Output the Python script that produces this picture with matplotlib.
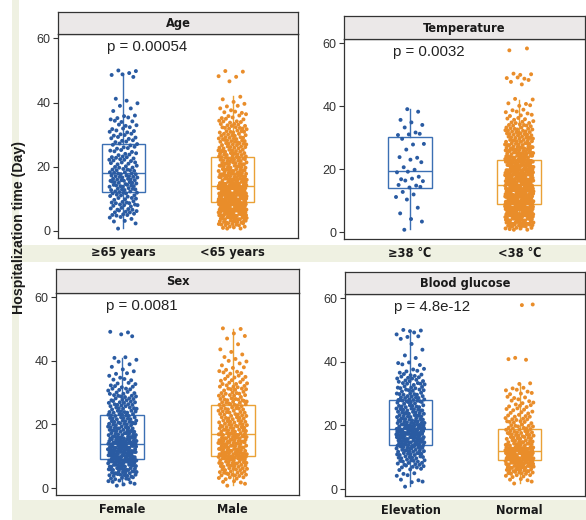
import numpy as np
import matplotlib
matplotlib.use('Agg')
import matplotlib.pyplot as plt
from matplotlib.patches import Rectangle
from matplotlib import font_manager

# ---- data: number of patients per hospitalization day (first entry = day 1) ----
age_over65 = [1, 1, 2, 3, 5, 5, 5, 6, 6, 5, 5, 7, 7, 8, 7, 8, 8, 7, 6, 5,
              5, 5, 5, 4, 4, 4, 4, 4, 4, 4, 4, 3, 3, 3, 3, 2, 1, 1, 1, 1,
              2, 0, 0, 0, 0, 0, 0, 1, 3, 2]
age_under65 = [6, 8, 10, 13, 16, 17, 19, 19, 23, 23, 22, 21, 21, 22, 13, 12, 12, 11, 11, 10,
               10, 9, 9, 9, 9, 8, 8, 8, 8, 7, 7, 7, 6, 5, 4, 3, 3, 2, 2, 2,
               1, 1, 0, 0, 0, 0, 1, 2, 0, 2]
temp_high = [1, 0, 1, 1, 0, 1, 0, 1, 0, 1, 1, 1, 1, 2, 2, 2, 2, 1, 2, 1,
             1, 1, 1, 2, 0, 1, 0, 2, 0, 1, 3, 1, 1, 1, 1, 1, 0, 1, 1]
temp_low = [7, 10, 13, 16, 20, 23, 25, 26, 28, 26, 25, 24, 23, 22, 22, 20, 19, 18, 17, 16,
            15, 15, 14, 13, 12, 11, 10, 10, 9, 9, 8, 8, 7, 6, 5, 4, 3, 3, 2, 2,
            2, 2, 0, 0, 0, 0, 1, 2, 3, 3, 0, 0, 0, 0, 0, 0, 0, 2]
sex_female = [3, 4, 6, 8, 10, 11, 12, 14, 16, 16, 15, 15, 14, 18, 11, 11, 10, 10, 9, 9,
              8, 8, 8, 8, 7, 7, 6, 6, 6, 5, 5, 4, 3, 3, 2, 2, 2, 1, 1, 2,
              2, 0, 0, 0, 0, 0, 0, 2, 2]
sex_male = [2, 3, 5, 6, 7, 8, 9, 10, 11, 13, 12, 11, 11, 11, 11, 11, 11, 9, 8, 8,
            8, 7, 7, 7, 7, 7, 7, 7, 6, 6, 6, 5, 5, 4, 4, 3, 3, 2, 2, 2,
            2, 1, 1, 1, 1, 0, 1, 1, 1, 2]
glu_elev = [1, 2, 2, 2, 2, 3, 5, 6, 7, 8, 9, 9, 10, 11, 13, 14, 14, 15, 18, 12,
            10, 9, 9, 9, 9, 8, 6, 9, 7, 7, 6, 6, 6, 5, 5, 4, 3, 2, 2, 2,
            1, 1, 0, 1, 0, 1, 1, 2, 2, 3]
glu_normal = [0, 2, 3, 5, 7, 10, 13, 15, 17, 18, 17, 19, 14, 11, 9, 8, 8, 8, 7, 6,
              6, 5, 5, 4, 4, 4, 3, 3, 3, 3, 3, 2, 2, 0, 0, 0, 0, 0, 0, 0,
              3, 0, 0, 0, 0, 0, 0, 0, 0, 0, 0, 0, 0, 0, 0, 0, 0, 2]

titles = ['Age', 'Temperature', 'Sex', 'Blood glucose']
group_labels = [['≥65 years', '<65 years'], ['≥38 ℃', '<38 ℃'],
                ['Female', 'Male'], ['Elevation', 'Normal']]
group_counts = [[age_over65, age_under65], [temp_high, temp_low],
                [sex_female, sex_male], [glu_elev, glu_normal]]
p_labels = ['p = 0.00054', 'p = 0.0032', 'p = 0.0081', 'p = 4.8e-12']
y_ticks = [0, 20, 40, 60]
y_label = 'Hospitalization time (Day)'

# ---- layout (pixels: left, strip top, right, strip bottom, axes bottom) ----
W, H = 586, 520
rects = [(58, 12, 298, 34, 238), (344, 16, 585, 39, 239),
         (56, 269, 299, 293, 495), (345, 272, 585, 294, 496)]

PT_COL = ['#2a5ba2', '#e98d2a']
BOX_COL = ['#3b6fb3', '#eaa136']
BG = '#eff1e2'
ARIAL = ['Liberation Sans', 'DejaVu Sans']

cond = [f for f in font_manager.fontManager.ttflist
        if f.name == 'DejaVu Sans' and f.stretch == 'condensed']
NARROW_KW = dict(family=['DejaVu Sans'], fontstretch='condensed') if cond else \
    dict(family=['Roboto', 'DejaVu Sans'])


def fr(l, t, r, b):
    return [l / W, 1 - b / H, (r - l) / W, (b - t) / H]


fig = plt.figure(figsize=(W / 100, H / 100), dpi=100)
fig.patch.set_facecolor('white')
for (l, t, r, b) in [(12, 245, 586, 262), (12, 500, 586, 520), (12, 0, 19, 520)]:
    fig.patches.append(Rectangle((l / W, 1 - b / H), (r - l) / W, (b - t) / H,
                                 transform=fig.transFigure, facecolor=BG,
                                 edgecolor='none', zorder=-5))

xtick_texts, strip_texts, p_texts = [], [], []
for k in range(4):
    l, st, r, sb, b = rects[k]
    ax = fig.add_axes(fr(l, sb, r, b))
    ax.set_facecolor('white')
    for g in range(2):
        c = np.asarray(group_counts[k][g])
        vals = np.repeat(np.arange(1, len(c) + 1), c).astype(float)
        n = len(vals)
        i = np.arange(n)
        jx = ((i * 0.6180339887 + 0.31) % 1.0 - 0.5) * 2 * 0.13
        jy = ((i * 0.7548776662 + 0.17) % 1.0 - 0.5) * 0.8
        ax.boxplot(vals, positions=[g + 1], widths=0.4, showfliers=False,
                   showcaps=False, patch_artist=True, manage_ticks=False,
                   boxprops=dict(facecolor='none', edgecolor=BOX_COL[g], linewidth=1.0),
                   whiskerprops=dict(color=BOX_COL[g], linewidth=1.0),
                   medianprops=dict(color=BOX_COL[g], linewidth=1.0),
                   zorder=2)
        ax.scatter(g + 1 + jx, vals + jy, s=8, color=PT_COL[g], edgecolors='none',
                   zorder=3)
    ax.set_xlim(0.4, 2.6)
    ax.set_ylim(-2.2, 61.4)
    ax.set_yticks(y_ticks)
    ax.set_yticklabels([str(v) for v in y_ticks], fontsize=9, color='#333333',
                       family=ARIAL)
    ax.set_xticks([1, 2])
    xtick_texts += ax.set_xticklabels(group_labels[k], fontsize=10, fontweight='bold',
                                      color='#1a1a1a', **NARROW_KW)
    ax.tick_params(axis='x', length=0, pad=6)
    ax.tick_params(axis='y', length=3.5, width=0.8, color='#333333', pad=2)
    for s in ax.spines.values():
        s.set_color('#333333')
        s.set_linewidth(0.9)
    p_texts.append(ax.text(0.85, 57.4, p_labels[k], fontsize=10.8, family=ARIAL,
                           color='#222222', ha='left', va='center', zorder=4))

    sax = fig.add_axes(fr(l, st, r, sb))
    sax.set_facecolor('#ebe8e8')
    sax.set_xticks([])
    sax.set_yticks([])
    for s in sax.spines.values():
        s.set_color('#333333')
        s.set_linewidth(0.9)
    strip_texts.append(sax.text(0.5, 0.47, titles[k], transform=sax.transAxes,
                                ha='center', va='center', fontsize=10,
                                fontweight='bold', color='#1a1a1a', **NARROW_KW))

ylab = fig.text(19 / W, 1 - 228 / H, y_label, rotation=90, ha='center', va='center',
                fontsize=9.8, fontweight='bold', family=ARIAL, color='#1a1a1a')

# fit font sizes so text widths match the reference (pixels)
fig.canvas.draw()
renderer = fig.canvas.get_renderer()


def fit(texts, ref_text, target, horizontal=True):
    ext = ref_text.get_window_extent(renderer)
    size = ref_text.get_fontsize() * target / (ext.width if horizontal else ext.height)
    for t in texts:
        t.set_fontsize(size)


fit(strip_texts, strip_texts[1], 82)
fit(xtick_texts, xtick_texts[6], 59)
fit(p_texts, p_texts[0], 80)
fit([ylab], ylab, 172, horizontal=False)

fig.savefig('out.png', dpi=100)
